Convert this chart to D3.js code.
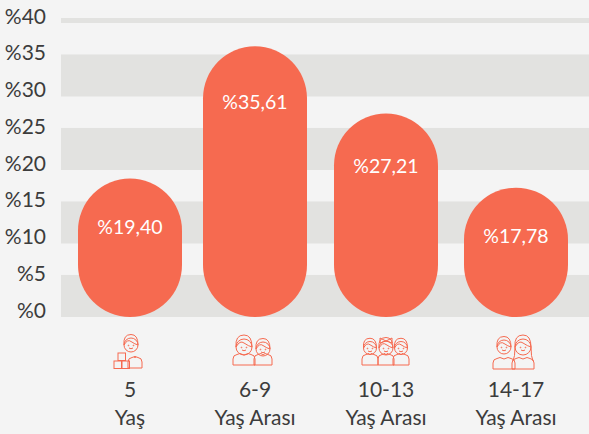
<!DOCTYPE html>
<html>
<head>
<meta charset="utf-8">
<script src="https://cdn.jsdelivr.net/npm/d3@7"></script>
<style>
	html, body { margin: 0; padding: 0; background: #f4f4f4; }
	text { font-family: Lato, sans-serif; }
	.domain, .tick line { display: none; }
	.tick text { font-family: Lato, sans-serif; font-size: 21px; fill: #3c3c3c; }
	.age { font-size: 21px; fill: #3c3c3c; text-anchor: middle; }
	.value { font-size: 19.5px; fill: #fff; text-anchor: middle; }
	.icon { fill: none; stroke: #f66a50; stroke-width: 1; }
</style>
</head>
<body>
<svg id="chart" width="589" height="434"></svg>
<script>
let ages = ["5", "6-9", "10-13", "14-17"];
let age_units = ["Yaş", "Yaş Arası", "Yaş Arası", "Yaş Arası"];
let value_labels = ["%19,40", "%35,61", "%27,21", "%17,78"];
// bar heights as they read against the axis, the pills do not sit exactly on their labels
let bar_heights = [18.83, 36.83, 27.69, 17.6];
let y_ticks = [0, 5, 10, 15, 20, 25, 30, 35, 40];
let band_starts = [0, 10, 20, 30, 40];

let svg = d3.select("#chart");

let y = d3.scaleLinear().domain([0, 40]).range([317, 23]);
let x = d3.scaleOrdinal().domain(ages).range([130, 255, 386, 516]);
let label_offset = d3.scaleLinear().domain([17.6, 36.83]).range([55, 63]);
let bar_width = 104;

// Background stripes
svg.selectAll(".band").data(band_starts).enter().append("rect")
	.attr("class", "band")
	.attr("x", 61)
	.attr("width", 528)
	.attr("y", d => d == 40 ? y(40.68) : y(d + 5.72))
	.attr("height", d => d == 40 ? y(40) - y(40.68) : y(d) - y(d + 5.72))
	.attr("fill", "#e2e2e0");

// Y axis, labels sit a bit above their stripe
svg.append("g")
	.attr("transform", "translate(46,-6.5)")
	.call(d3.axisLeft(y).tickValues(y_ticks).tickSize(0).tickPadding(0).tickFormat(d => "%" + d));

// Pills
svg.selectAll(".bar").data(ages).enter().append("rect")
	.attr("class", "bar")
	.attr("x", d => x(d) - bar_width / 2)
	.attr("width", bar_width)
	.attr("y", (d, i) => y(bar_heights[i]))
	.attr("height", (d, i) => y(0) - y(bar_heights[i]))
	.attr("rx", bar_width / 2)
	.attr("ry", bar_width / 2)
	.attr("fill", "#f66a50");

svg.selectAll(".value").data(ages).enter().append("text")
	.attr("class", "value")
	.attr("x", d => x(d))
	.attr("y", (d, i) => y(bar_heights[i]) + label_offset(bar_heights[i]))
	.text((d, i) => value_labels[i]);

// Age labels
svg.selectAll(".age1").data(ages).enter().append("text")
	.attr("class", "age")
	.attr("x", d => x(d))
	.attr("y", 396.5)
	.text(d => d);

svg.selectAll(".age2").data(ages).enter().append("text")
	.attr("class", "age")
	.attr("x", d => x(d))
	.attr("y", 425)
	.text((d, i) => age_units[i]);

// Small line icons
function head(g, cx, cy, r) {
	g.append("circle").attr("cx", cx).attr("cy", cy).attr("r", r);
	// hair
	g.append("path").attr("d", `M${cx - r},${cy} q${r * 0.5},${-r * 0.9} ${r},${-r * 0.5} q${r * 0.6},${r * 0.4} ${r},${r * 0.5} q0,${-r * 1.5} ${-r},${-r * 1.5} q${-r - 1},0 ${-r},${r * 1.5}`);
	g.append("path").attr("d", `M${cx - 2},${cy + 3} q2,1.5 4,0`);
	g.selectAll(".eye").data([-2.5, 2.5]).enter().append("circle")
		.attr("cx", d => cx + d).attr("cy", cy + 0.5).attr("r", 0.4);
}
function body(g, cx, w, bottom) {
	g.append("path").attr("d", `M${cx - w},${bottom} v-6 q0,-4 4,-4.5 l3,-1 q${w - 7},3 ${2 * w - 14},0 l3,1 q4,0.5 4,4.5 v6 M${cx - w},${bottom} h${2 * w}`);
}
function icon(i) {
	return svg.append("g").attr("class", "icon").attr("transform", "translate(" + x(ages[i]) + ",0)");
}

let g0 = icon(0);
head(g0, 1, 345, 7);
body(g0, 5, 7, 368);
g0.selectAll(".block").data([[-16, 361], [-8, 361], [-12, 353]]).enter().append("rect")
	.attr("x", d => d[0]).attr("y", d => d[1]).attr("width", 7.5).attr("height", 7.5);

let g1 = icon(1);
head(g1, -11, 347, 8);
body(g1, -11, 11, 365);
head(g1, 8, 349, 7);
body(g1, 8, 9, 365);

let g2 = icon(2);
head(g2, -16, 348, 6.5);
body(g2, -16, 8, 365);
head(g2, 0, 348, 7);
body(g2, 0, 8, 365);
head(g2, 15, 348, 6.5);
body(g2, 15, 8, 365);
g2.append("path").attr("d", "M0,341 l-6,-3 v5 z M0,341 l6,-3 v5 z");

let g3 = icon(3);
head(g3, -12, 347, 7);
body(g3, -12, 11, 369);
head(g3, 7, 347, 8);
body(g3, 7, 11, 369);
g3.append("path").attr("d", "M-1,347 q0,10 -2,14 M15,347 q0,10 2,14");
</script>
</body>
</html>
